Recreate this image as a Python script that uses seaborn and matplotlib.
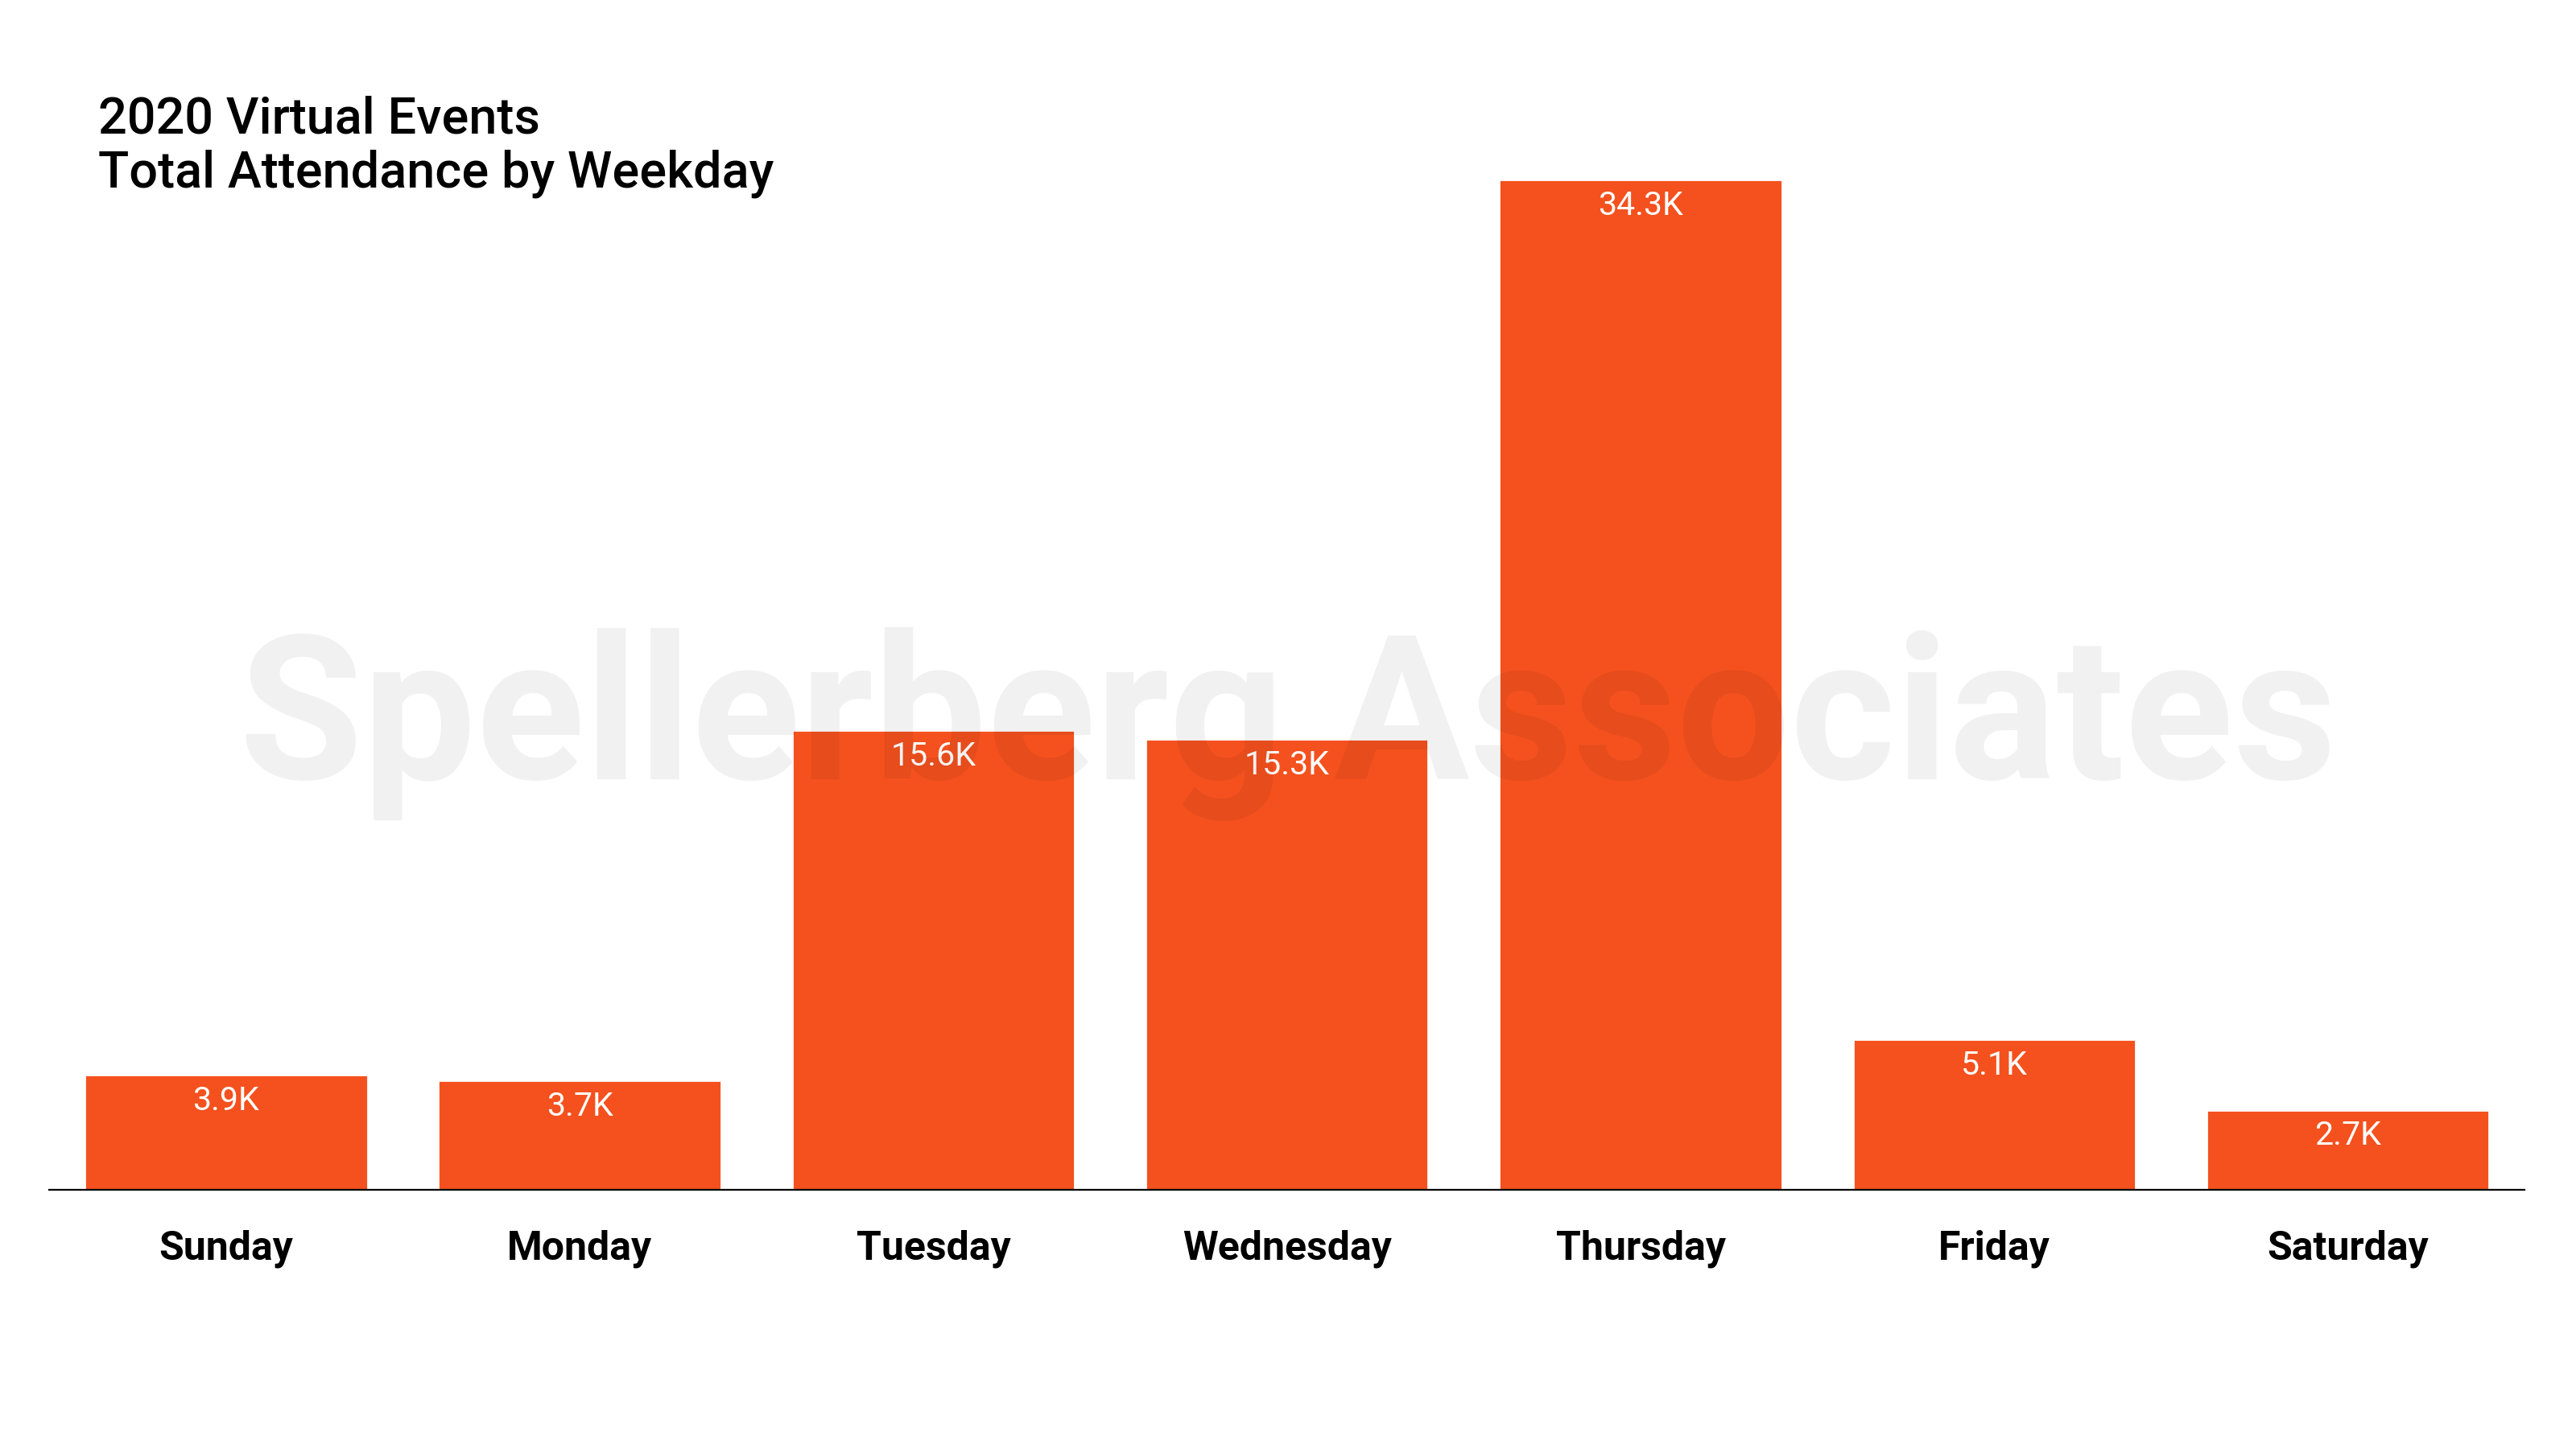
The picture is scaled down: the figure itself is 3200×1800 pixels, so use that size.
import matplotlib
matplotlib.use("Agg")
import matplotlib.pyplot as plt
import seaborn as sns
import pandas as pd

# datos
dias = ['Sunday', 'Monday', 'Tuesday', 'Wednesday', 'Thursday', 'Friday', 'Saturday']
asistencia = [3900, 3700, 15600, 15300, 34300, 5100, 2700]
etiquetas = ['3.9K', '3.7K', '15.6K', '15.3K', '34.3K', '5.1K', '2.7K']

df = pd.DataFrame({'dia': dias, 'total': asistencia})

sns.set_theme(style='white')
plt.rcParams['font.family'] = ['Roboto', 'DejaVu Sans']

fig = plt.figure(figsize=(16, 9), dpi=200)
ax = fig.add_axes([0.0191, 0.179, 0.961, 0.697])

sns.barplot(data=df, x='dia', y='total', color='#F4511E', saturation=1,
            width=0.8, ax=ax)

ax.bar_label(ax.containers[0], labels=etiquetas, padding=-18.5, color='white',
             fontsize=14.8)

ax.set_xlim(-0.5, 6.5)
ax.set_ylim(0, 34300)
ax.set_xlabel('')
ax.set_ylabel('')
ax.set_yticks([])
ax.tick_params(axis='x', length=0, pad=18, labelsize=18)
for lbl in ax.get_xticklabels():
    lbl.set_fontweight('bold')
    lbl.set_color('black')
for s in ['top', 'left', 'right']:
    ax.spines[s].set_visible(False)
ax.spines['bottom'].set_color('black')
ax.spines['bottom'].set_linewidth(0.8)

# titulo
fig.text(0.038, 0.908, '2020 Virtual Events', fontsize=22.7, fontweight='medium',
         color='black', ha='left', va='baseline')
fig.text(0.038, 0.871, 'Total Attendance by Weekday', fontsize=22.7, fontweight='medium',
         color='black', ha='left', va='baseline')

# marca de agua
fig.text(0.5, 0.5, 'Spellerberg Associates', fontsize=90, fontweight='bold',
         color='black', alpha=0.055, ha='center', va='center', zorder=10)

fig.savefig('out.png', dpi=200, facecolor='white')
